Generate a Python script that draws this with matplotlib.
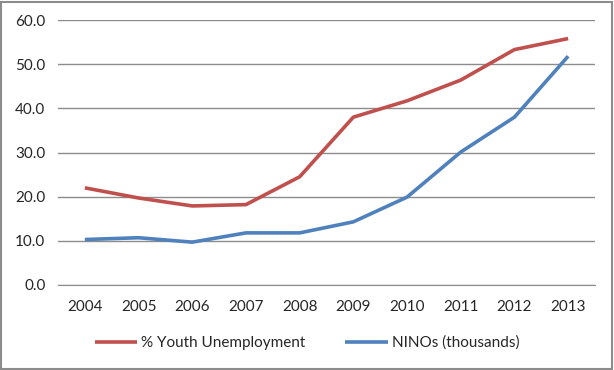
import matplotlib
matplotlib.use("Agg")
import matplotlib.pyplot as plt
from matplotlib.patches import Rectangle

years = ["2004", "2005", "2006", "2007", "2008", "2009", "2010", "2011", "2012", "2013"]
youth_unemployment = [22.0, 19.7, 17.9, 18.2, 24.5, 38.0, 41.7, 46.4, 53.3, 55.8]
ninos = [10.3, 10.7, 9.7, 11.8, 11.8, 14.3, 19.9, 30.1, 38.0, 51.8]
yticks = [0, 10, 20, 30, 40, 50, 60]

plt.rcParams['font.family'] = ['Lato', 'DejaVu Sans']

W, H = 614, 370
fig = plt.figure(figsize=(W / 100, H / 100), dpi=100)
ax = fig.add_axes([58 / W, 1 - 285 / H, (595 - 58) / W, (285 - 20) / H])

x = list(range(len(years)))
ax.plot(x, youth_unemployment, color="#C0504D", lw=2.6, label="% Youth Unemployment",
        solid_capstyle="butt")
ax.plot(x, ninos, color="#4F81BD", lw=2.6, label="NINOs (thousands)",
        solid_capstyle="butt")

ax.set_xlim(-0.5, len(years) - 0.5)
ax.set_ylim(0, 60)
ax.set_yticks(yticks)
ax.set_yticklabels([f"{v:.1f}" for v in yticks], fontsize=11, color="#262626")
ax.set_xticks(x)
ax.set_xticklabels(years, fontsize=11, color="#262626")
ax.yaxis.grid(True, color="#8C8C8C", lw=1)
ax.set_axisbelow(True)
for s in ["top", "right", "left"]:
    ax.spines[s].set_visible(False)
ax.spines["bottom"].set_color("#8C8C8C")
ax.tick_params(axis="both", length=0)
ax.tick_params(axis="y", pad=9)
ax.tick_params(axis="x", pad=11)

leg = fig.legend(loc="center", bbox_to_anchor=(0.5, 1 - 343 / H), ncol=2, frameon=False,
                 fontsize=11, handlelength=2.8, handletextpad=0.25, columnspacing=2.6)
for t in leg.get_texts():
    t.set_color("#262626")

fig.patches.append(Rectangle((1 / W, 1 / H), 1 - 3 / W, 1 - 3 / H, transform=fig.transFigure,
                             fill=False, edgecolor="#8C8C8C", lw=1.5))
fig.savefig("out.png", dpi=100)
